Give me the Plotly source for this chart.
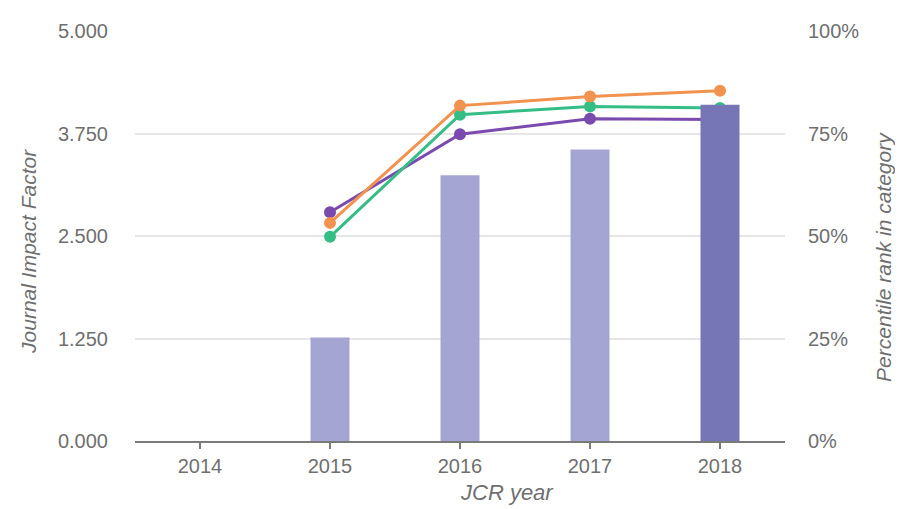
import plotly.graph_objects as go

years = ["2014", "2015", "2016", "2017", "2018"]
jif = [None, 1.262, 3.240, 3.556, 4.102]
bar_colors = ["#A5A5D3", "#A5A5D3", "#A5A5D3", "#A5A5D3", "#7676B6"]
pct_orange = [None, 53.2, 81.8, 84.0, 85.4]
pct_green = [None, 49.8, 79.6, 81.6, 81.2]
pct_purple = [None, 55.8, 74.8, 78.6, 78.4]

y_left_ticks = [0, 1.25, 2.5, 3.75, 5]
y_left_text = ["0.000", "1.250", "2.500", "3.750", "5.000"]
y_right_ticks = [0, 25, 50, 75, 100]
y_right_text = ["0%", "25%", "50%", "75%", "100%"]

font_color = "#6f6f6f"
fam = "Liberation Sans, Arial, sans-serif"

fig = go.Figure()
for vals, col in [(pct_purple, "#7B4AAE"), (pct_green, "#34BE86"), (pct_orange, "#F2924F")]:
    fig.add_trace(go.Scatter(
        x=years, y=vals, mode="lines+markers", yaxis="y",
        line=dict(color=col, width=3),
        marker=dict(color=col, size=12),
        showlegend=False, connectgaps=False,
    ))
fig.add_trace(go.Bar(
    x=years, y=jif, yaxis="y2", width=0.3,
    marker=dict(color=bar_colors, line=dict(width=0)),
    showlegend=False,
))

fig.update_layout(
    width=903, height=509,
    margin=dict(l=127, r=126, t=21, b=76),
    paper_bgcolor="white", plot_bgcolor="white",
    font=dict(family=fam, color=font_color, size=20),
    xaxis=dict(
        type="category", categoryorder="array", categoryarray=years,
        range=[-0.5, 4.5],
        showline=True, linecolor="#7a7a7a", linewidth=2,
        ticks="outside", ticklen=6, tickwidth=2, tickcolor="#7a7a7a",
        showgrid=False, zeroline=False,
        tickfont=dict(size=20, color=font_color),
    ),
    yaxis=dict(
        side="right", range=[0, 100],
        tickvals=y_right_ticks, ticktext=y_right_text,
        showgrid=True, gridcolor="#e6e6e6", gridwidth=1.5,
        zeroline=False, showline=False, ticks="",
        ticklabelstandoff=22,
        tickfont=dict(size=20, color=font_color),
    ),
    yaxis2=dict(
        side="left", overlaying="y", range=[0, 5],
        tickvals=y_left_ticks, ticktext=y_left_text,
        showgrid=False, zeroline=False, showline=False, ticks="",
        ticklabelstandoff=26,
        tickfont=dict(size=20, color=font_color),
    ),
    annotations=[
        dict(text="<i>Journal Impact Factor</i>", xref="paper", yref="paper",
             x=-0.1631, y=0.4636, xanchor="center", yanchor="middle",
             textangle=-90, showarrow=False, font=dict(size=21, color=font_color)),
        dict(text="<i>Percentile rank in category</i>", xref="paper", yref="paper",
             x=1.1523, y=0.449, xanchor="center", yanchor="middle",
             textangle=-90, showarrow=False, font=dict(size=21, color=font_color)),
        dict(text="<i>JCR year</i>", xref="paper", yref="paper",
             x=0.5723, y=-0.1262, xanchor="center", yanchor="middle",
             showarrow=False, font=dict(size=22, color=font_color)),
    ],
)

fig.write_html("out.html")
